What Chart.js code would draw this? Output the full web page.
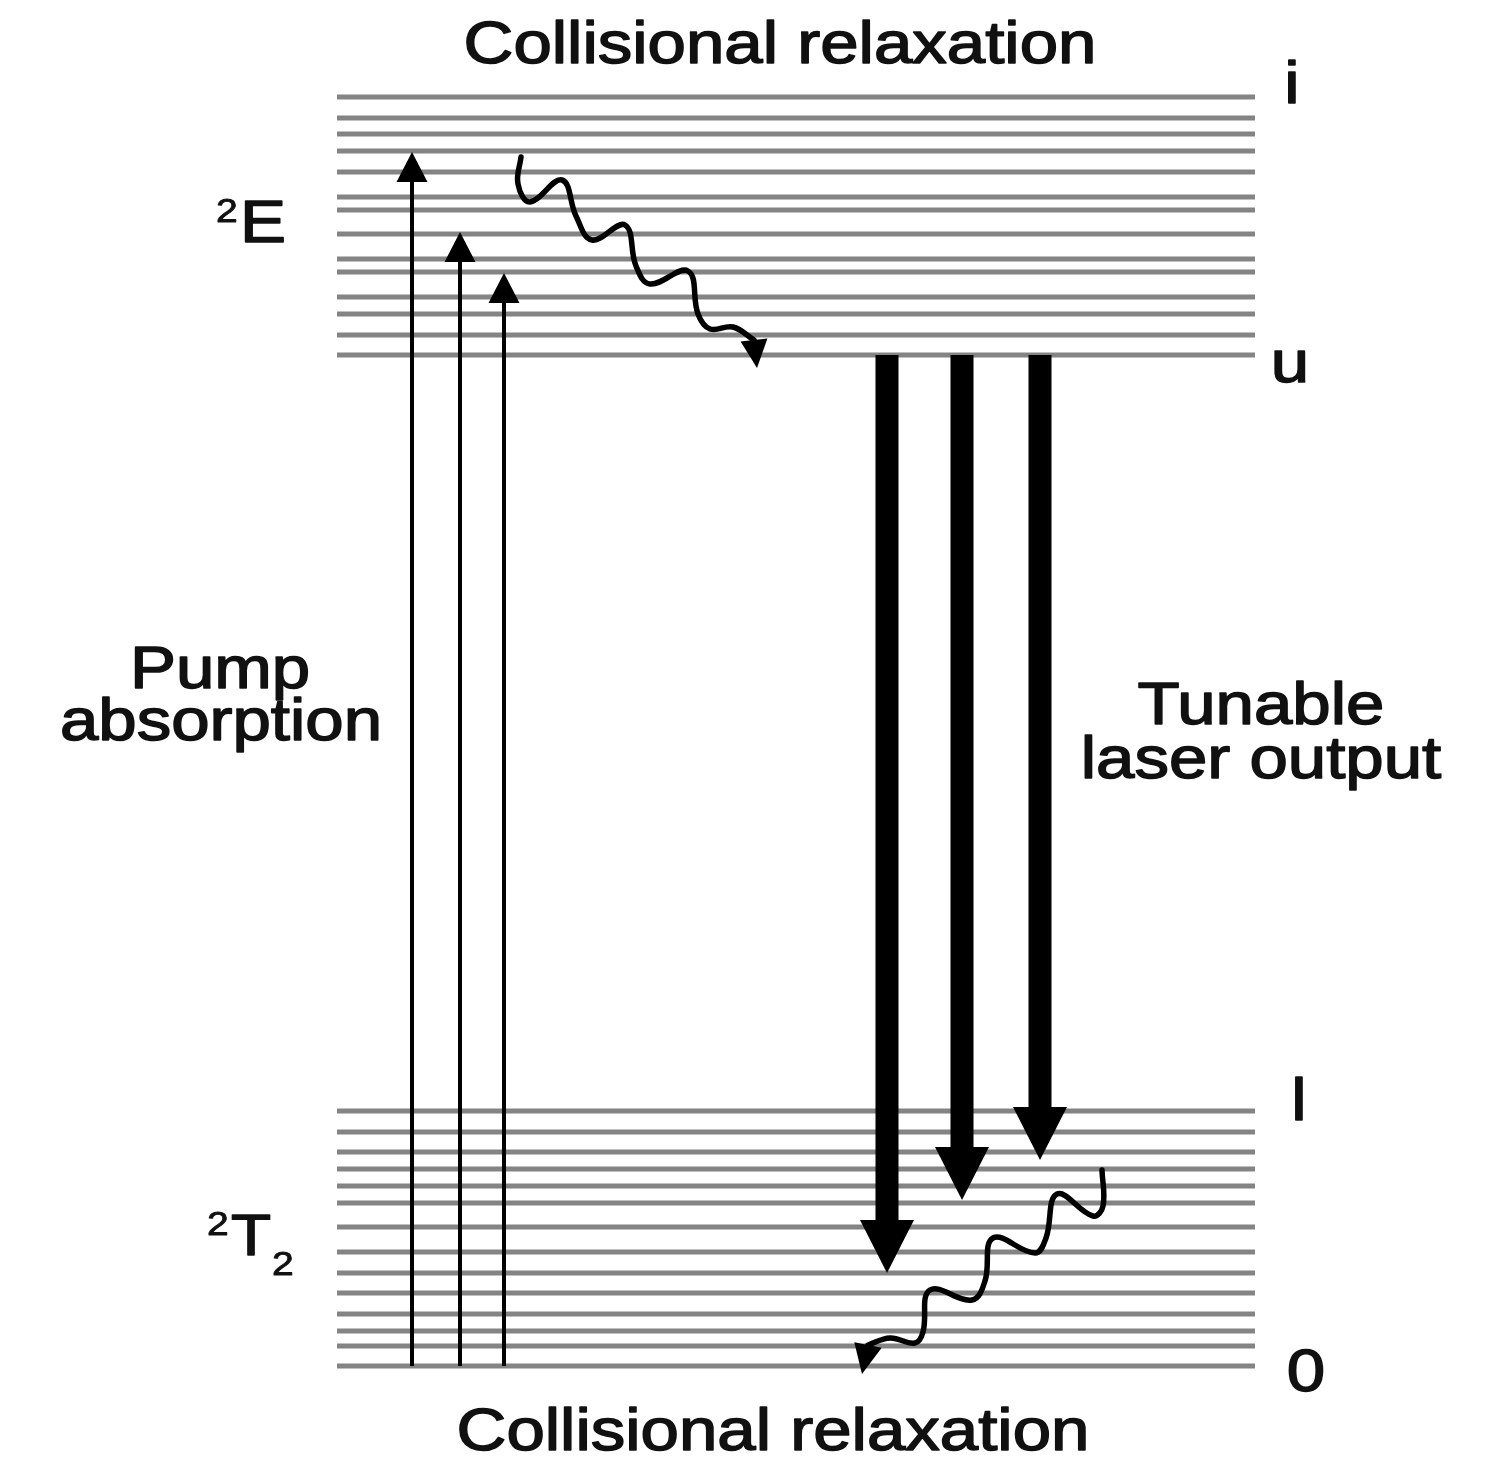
<!DOCTYPE html>
<html>
<head>
<meta charset="utf-8">
<title>Collisional relaxation</title>
<script src="https://cdn.jsdelivr.net/npm/chart.js@4.4.1/dist/chart.umd.min.js"></script>
<style>
    html, body { margin: 0; padding: 0; background: #fff; }
    #grafico { display: block; }
</style>
</head>
<body>
<canvas id="grafico" width="1501" height="1458"></canvas>
<script>
const niveisSuperiores = [1269, 1248, 1232, 1215, 1194, 1169, 1156, 1132, 1107, 1094, 1069, 1052, 1031, 1011];
const niveisInferiores = [255, 234, 214, 197, 180, 163, 139, 114, 93, 73, 52, 35, 20, 0];

// absorcao do bombeio: sai do nivel 0 e sobe ate a banda 2E
const bombeioX = [412, 460, 504];
const bombeioTopo = [1214, 1134, 1093];

// saida laser sintonizavel: sai do nivel u e desce ate a banda 2T2
const laserX = [887, 962, 1040];
const laserPonta = [93, 166, 206];

// relaxacao colisional (setas onduladas)
const ondaSuperiorX = [521, 518, 530, 562, 576, 592, 625, 636, 650, 688, 698, 710, 733, 754, 757];
const ondaSuperiorE = [1209, 1182, 1164, 1186, 1150, 1126, 1141, 1100, 1082, 1095, 1052, 1037, 1039, 1026, 998];
const ondaInferiorX = [1102, 1103, 1093, 1057, 1046, 1035, 993, 985, 972, 930, 923, 915, 890, 868, 862];
const ondaInferiorE = [196, 160, 150, 172, 128, 113, 128, 85, 66, 76, 34, 23, 28, 21, -8];

const rotulosDosNiveis = ["i", "u", "l", "0"];

const inicioDosNiveis = 337;
const fimDosNiveis = 1255;
const corDosNiveis = "#848484";
const esticar = 1.15;
const fonte = '"Liberation Sans", Arial, sans-serif';

window.onload = aoCarregarPagina;

function aoCarregarPagina() {
    const ctx = document.querySelector("#grafico");
    criarGrafico(ctx);
}

function linhaDeNivel(energia) {
    return {
        data: [{ x: inicioDosNiveis, y: energia }, { x: fimDosNiveis, y: energia }],
        showLine: true,
        borderColor: corDosNiveis,
        borderWidth: 5,
        pointRadius: 0,
        order: 2
    };
}

function setaReta(x, de, ate, espessura, cabeca) {
    const sentido = ate > de ? -1 : 1;
    return {
        data: [{ x: x, y: de }, { x: x, y: ate + sentido * cabeca.comprimento }],
        showLine: true,
        borderColor: "#000",
        borderWidth: espessura,
        pointRadius: 0,
        order: 1,
        ponta: { x: x, y: ate, largura: cabeca.largura }
    };
}

function setaOndulada(xs, es, largura) {
    const pontos = xs.map((x, i) => ({ x: x, y: es[i] }));
    const ponta = pontos.pop();
    return {
        data: pontos,
        showLine: true,
        borderColor: "#000",
        borderWidth: 5.5,
        borderCapStyle: "round",
        borderJoinStyle: "round",
        tension: 0.4,
        pointRadius: 0,
        order: 1,
        ponta: { x: ponta.x, y: ponta.y, largura: largura }
    };
}

const pontasDeSeta = {
    id: "pontasDeSeta",
    afterDatasetsDraw(chart) {
        const c = chart.ctx;
        chart.data.datasets.forEach((ds, i) => {
            if (!ds.ponta) return;
            const meta = chart.getDatasetMeta(i);
            const base = meta.data[meta.data.length - 1];
            const tx = chart.scales.x.getPixelForValue(ds.ponta.x);
            const ty = chart.scales.y.getPixelForValue(ds.ponta.y);
            let dx = tx - base.x, dy = ty - base.y;
            const n = Math.hypot(dx, dy);
            dx /= n; dy /= n;
            const meia = ds.ponta.largura / 2;
            c.save();
            c.fillStyle = "#000";
            c.beginPath();
            c.moveTo(tx, ty);
            c.lineTo(base.x - dy * meia, base.y + dx * meia);
            c.lineTo(base.x + dy * meia, base.y - dx * meia);
            c.closePath();
            c.fill();
            c.restore();
        });
    }
};

function escrever(c, texto, x, y, tamanho, alinhar) {
    c.save();
    c.font = tamanho + "px " + fonte;
    c.fillStyle = "#111";
    c.strokeStyle = "#111";
    c.lineWidth = tamanho / 40;
    c.lineJoin = "round";
    c.textAlign = alinhar;
    c.textBaseline = "alphabetic";
    c.translate(x, y);
    c.scale(esticar, 1);
    c.fillText(texto, 0, 0);
    c.strokeText(texto, 0, 0);
    c.restore();
}

const rotulos = {
    id: "rotulos",
    afterDraw(chart) {
        const c = chart.ctx;
        const px = v => chart.scales.x.getPixelForValue(v);
        const py = v => chart.scales.y.getPixelForValue(v);

        escrever(c, "Collisional relaxation", px(780), py(1303), 60, "center");
        escrever(c, "Collisional relaxation", px(773), py(-84), 60, "center");

        escrever(c, "Pump", px(220), py(678), 60, "center");
        escrever(c, "absorption", px(221), py(626), 60, "center");
        escrever(c, "Tunable", px(1261), py(642), 60, "center");
        escrever(c, "laser output", px(1261), py(588), 60, "center");

        // i e u ficam junto da banda superior, l e 0 junto da inferior
        const alturas = [niveisSuperiores[0] - 6, niveisSuperiores[niveisSuperiores.length - 1] - 27,
                         niveisInferiores[0] - 9, niveisInferiores[niveisInferiores.length - 1] - 25];
        const colunas = [1292, 1290, 1299, 1306];
        rotulosDosNiveis.forEach((r, i) => escrever(c, r, px(colunas[i]), py(alturas[i]), 60, "center"));

        escrever(c, "2", px(216), py(1144), 34, "left");
        escrever(c, "E", px(240), py(1124), 60, "left");
        escrever(c, "2", px(207), py(131), 34, "left");
        escrever(c, "T", px(231), py(111), 57, "left");
        escrever(c, "2", px(272), py(91), 34, "left");
    }
};

function criarGrafico(ctx) {
    const datasets = [];
    niveisSuperiores.forEach(e => datasets.push(linhaDeNivel(e)));
    niveisInferiores.forEach(e => datasets.push(linhaDeNivel(e)));

    bombeioX.forEach((x, i) => datasets.push(setaReta(x, 0, bombeioTopo[i], 4, { comprimento: 30, largura: 31 })));
    laserX.forEach((x, i) => datasets.push(setaReta(x, niveisSuperiores[niveisSuperiores.length - 1], laserPonta[i], 23, { comprimento: 53, largura: 54 })));

    datasets.push(setaOndulada(ondaSuperiorX, ondaSuperiorE, 27));
    datasets.push(setaOndulada(ondaInferiorX, ondaInferiorE, 28));

    return new Chart(ctx, {
        type: "scatter",
        data: { datasets: datasets },
        options: {
            responsive: false,
            animation: false,
            devicePixelRatio: 1,
            layout: { padding: 0 },
            scales: {
                x: { type: "linear", min: 0, max: 1501, display: false },
                y: { type: "linear", min: -92, max: 1366, display: false }
            },
            plugins: {
                legend: { display: false },
                tooltip: { enabled: false }
            }
        },
        plugins: [pontasDeSeta, rotulos]
    });
}
</script>
</body>
</html>
